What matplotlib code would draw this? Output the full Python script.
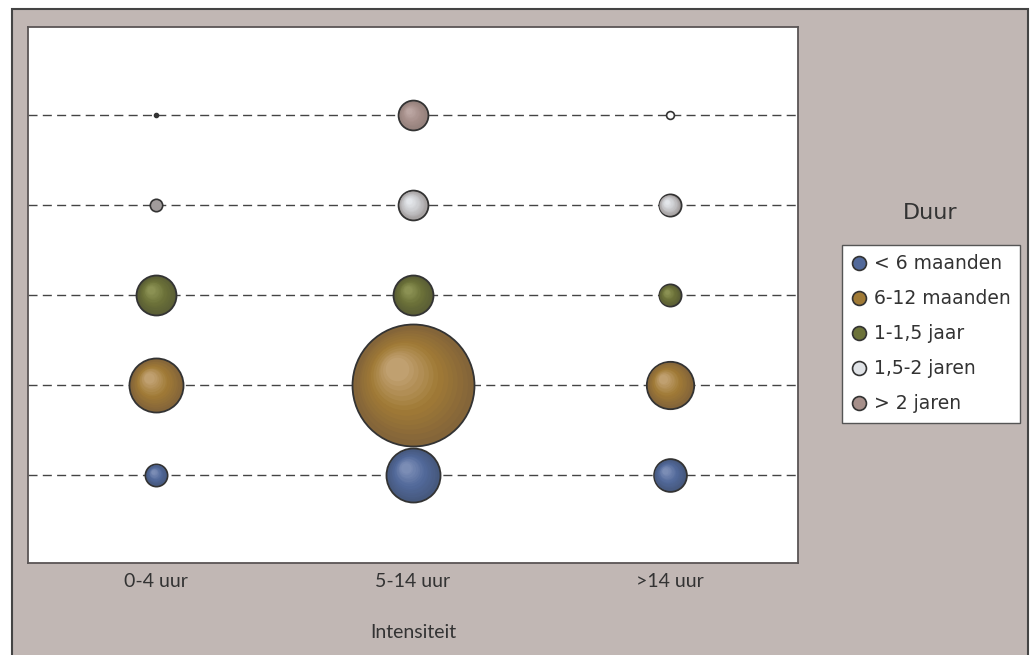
import numpy as np
import matplotlib
matplotlib.use("Agg")
import matplotlib.pyplot as plt
from matplotlib.lines import Line2D
from matplotlib.patches import Rectangle
from matplotlib.transforms import ScaledTranslation
from matplotlib.colors import to_rgb

intensiteit = ['0-4 uur', '5-14 uur', '>14 uur']
duur = ['< 6 maanden', '6-12 maanden', '1-1,5 jaar', '1,5-2 jaren', '> 2 jaren']
minder_6m = [1.6, 9.5, 3.5]
m6_12 = [9.5, 48.4, 7.3]
j1_15 = [5.2, 5.2, 1.6]
j15_2 = [0.5, 2.9, 1.6]
meer_2j = [0.05, 2.9, 0.2]
waarden = [minder_6m, m6_12, j1_15, j15_2, meer_2j]

# kleuren: rand, basis, highlight
kleuren = [
    ('#46597e', '#52699a', '#7b8db5'),
    ('#846539', '#a07a36', '#c0a070'),
    ('#5a5e35', '#6c7239', '#8b9153'),
    ('#a19c9c', '#c8c8cb', '#e3e6ea'),
    ('#93807b', '#a68f8a', '#bba6a2'),
]
legend_kleur = ['#52699a', '#a07a36', '#6c7239', '#e0e3e7', '#a68f8a']

bg = '#c1b7b4'
dpi = 100
fig = plt.figure(figsize=(10.31, 6.55), dpi=dpi, facecolor='white')

# achtergrondkader
fig.patches.append(Rectangle((12 / 1031, -0.02), 1016 / 1031, 1 - 9 / 655 + 0.02,
                             transform=fig.transFigure, facecolor=bg,
                             edgecolor='#444444', linewidth=1.5, zorder=-10))

ax = fig.add_axes([28 / 1031, 92 / 655, 770 / 1031, 536 / 655])
ax.set_zorder(1)
ax.set_facecolor('white')
for s in ax.spines.values():
    s.set_color('#5a5555')
    s.set_linewidth(1.3)

ax.set_xlim(-0.5, 2.5)
ax.set_ylim(-0.98, 4.98)
ax.set_yticks([])
ax.set_xticks(range(len(intensiteit)))
ax.set_xticklabels(intensiteit, family='Lato', fontsize=14, color='#333333')
ax.tick_params(axis='x', length=0, pad=7)

for j in range(len(duur)):
    ax.axhline(j, color='#444444', lw=1, linestyle=(0, (6.5, 3.8)), zorder=1)


def mix(c1, c2, t):
    a = np.array(to_rgb(c1))
    b = np.array(to_rgb(c2))
    return tuple(a + (b - a) * t)


def bubble(x, y, r, kl):
    rand, basis, hl = kl
    d = 2 * r * 72 / dpi
    if r < 7:
        # kleine bellen: vlak gevuld
        if r < 3:
            fc = '#333333'
        elif r < 5:
            fc = 'white'
        else:
            fc = rand
        ax.scatter([x], [y], s=d ** 2, color=fc,
                   edgecolor='#333333', linewidth=1.2, zorder=3)
        return
    ax.scatter([x], [y], s=d ** 2, color=rand, edgecolor='#333333',
               linewidth=1.3, zorder=3)
    n = 14
    hx, hy = -0.33 * r, 0.33 * r
    for i in range(1, n):
        t = i / (n - 1)
        f = 1 - 0.8 * t
        if t < 0.5:
            c = mix(rand, basis, t / 0.5)
        else:
            c = mix(basis, hl, (t - 0.5) / 0.5)
        tr = ax.transData + ScaledTranslation(hx * (1 - f) / dpi, hy * (1 - f) / dpi,
                                              fig.dpi_scale_trans)
        ax.scatter([x], [y], s=(d * f * 0.97) ** 2, color=c, linewidth=0,
                   transform=tr, zorder=3 + i * 0.01)


vmax = max(max(w) for w in waarden)
for j, reeks in enumerate(waarden):
    for i, v in enumerate(reeks):
        r = 61 * np.sqrt(v / vmax)
        bubble(i, j, r, kleuren[j])

fig.text(413 / 1031, 1 - 632 / 655, 'Intensiteit', family='Lato', fontsize=14,
         color='#333333', ha='center', va='center')

fig.text(930 / 1031, 1 - 213 / 655, 'Duur', fontsize=16, color='#333333',
         ha='center', va='center')

handles = [Line2D([], [], marker='o', linestyle='', markersize=10,
                  markerfacecolor=c, markeredgecolor='#333333', markeredgewidth=1.2)
           for c in legend_kleur]
leg = fig.legend(handles, duur, loc='upper left',
                 bbox_to_anchor=(842 / 1031, 1 - 245 / 655), borderaxespad=0,
                 frameon=True, fancybox=False, framealpha=1, edgecolor='#555555',
                 prop={'size': 13.5}, labelspacing=0.85, handlelength=0.8,
                 handletextpad=0.4, borderpad=0.5)
for t in leg.get_texts():
    t.set_color('#333333')

fig.savefig('out.png', dpi=dpi, facecolor='white')
